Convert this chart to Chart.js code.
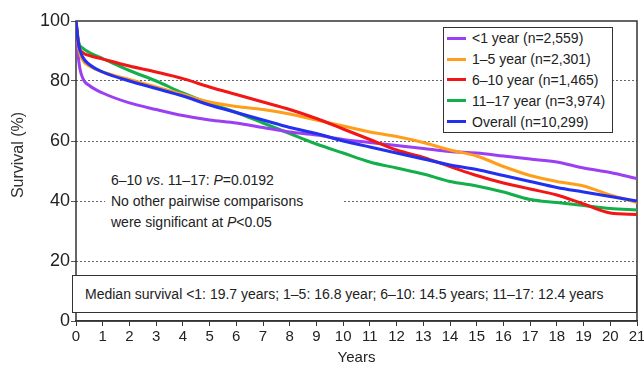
<!DOCTYPE html>
<html>
<head>
<meta charset="utf-8">
<script src="https://cdn.jsdelivr.net/npm/chart.js@4.4.0/dist/chart.umd.min.js"></script>
<style>
    body { margin: 0; background: #fff; font-family: "Liberation Sans", Arial, sans-serif; color: #222; }
    #wrap { position: relative; width: 644px; height: 371px; }
    .legend { position: absolute; left: 443px; top: 27px; width: 170px; height: 106px; box-sizing: border-box;
              border: 1.5px solid #333; background: #fff; font-size: 14px; }
    .legend .row { height: 20.8px; display: flex; align-items: center; }
    .legend .swatch { width: 19px; height: 3px; margin: 0 6px 0 3px; }
    .note { position: absolute; left: 105px; top: 170px; width: 238px; height: 64px; background: #fff;
            font-size: 14px; line-height: 21px; padding-left: 6px; box-sizing: border-box; }
    .median { position: absolute; left: 72px; top: 275px; width: 565px; height: 38px; box-sizing: border-box;
              border: 1px solid #333; border-top-width: 1.5px; border-bottom-width: 1.5px; background: #fff;
              font-size: 14px; line-height: 36px; padding-left: 12px; white-space: nowrap; }
</style>
</head>
<body>
<div id="wrap">
    <canvas id="chart-km" width="644" height="371"></canvas>
    <div class="legend" id="legend"></div>
    <div class="note">6–10 <i>vs</i>. 11–17: <i>P</i>=0.0192<br>No other pairwise comparisons<br>were significant at <i>P</i>&lt;0.05</div>
    <div class="median">Median survival &lt;1: 19.7 years; 1–5: 16.8 year; 6–10: 14.5 years; 11–17: 12.4 years</div>
</div>
<script>
// time points (years) shared by all curves
const years = [0, 0.1, 0.25, 0.5, 1, 2, 3, 4, 5, 6, 7, 8, 9, 10, 11, 12, 13, 14, 15, 16, 17, 18, 19, 20, 21];

const survLt1   = [100, 87, 81, 78.5, 76, 72.7, 70.5, 68.5, 67, 66, 64.5, 63, 62, 60.5, 59.5, 58.5, 57.5, 56.5, 56, 55, 54, 53, 51, 49.5, 47.5];
const surv1to5  = [100, 91, 87, 85, 83, 80.5, 78, 75.5, 73, 71.5, 70.5, 69, 67, 65, 63, 61.5, 59.5, 57, 55, 51.5, 48.5, 46.5, 45, 42, 39.5];
const surv6to10 = [100, 92, 89.5, 88.5, 87.3, 85, 83, 80.8, 78, 75.5, 73, 70.5, 67.5, 64, 60.5, 57, 54.5, 51.5, 48.5, 46, 44, 42, 39, 36, 35.5];
const surv11to17 = [100, 93, 91, 89.5, 87.5, 83.5, 80, 76, 72.5, 69.5, 66, 62.5, 59, 56, 53, 51, 49, 46.5, 45, 43, 40.5, 39.5, 38.5, 37.5, 37];
const survAll   = [100, 92, 88, 85.5, 83, 80, 77.5, 75, 72, 69.5, 67, 64.5, 62.5, 60, 58, 56, 54, 52, 50.5, 48.5, 46.5, 44.5, 43, 41.5, 40];

const seriesLabels = ["<1 year (n=2,559)", "1–5 year (n=2,301)", "6–10 year (n=1,465)", "11–17 year (n=3,974)", "Overall (n=10,299)"];
const seriesColors = ["#9b3ff2", "#ff9e1b", "#f21616", "#14ae4b", "#2230f0"];
const seriesValues = [survLt1, surv1to5, surv6to10, surv11to17, survAll];
const drawOrder = [4, 3, 2, 5, 1];

const yTicks = [0, 20, 40, 60, 80, 100];

const FONT = "'Liberation Sans', Arial, sans-serif";

const datasets = seriesValues.map((vals, i) => ({
    label: seriesLabels[i],
    data: years.map((x, j) => ({ x: x, y: vals[j] })),
    borderColor: seriesColors[i],
    borderWidth: 3,
    pointRadius: 0,
    fill: false,
    cubicInterpolationMode: "monotone",
    order: drawOrder[i],
}));

// legend as html box inside the plot
const legendEl = document.getElementById("legend");
seriesLabels.forEach((lab, i) => {
    const row = document.createElement("div");
    row.className = "row";
    const sw = document.createElement("span");
    sw.className = "swatch";
    sw.style.background = seriesColors[i];
    row.appendChild(sw);
    row.appendChild(document.createTextNode(lab));
    legendEl.appendChild(row);
});

const framePlugin = {
    id: "frame",
    beforeDatasetsDraw(chart) {
        const { ctx, chartArea: a } = chart;
        ctx.save();
        ctx.strokeStyle = "#333";
        ctx.lineWidth = 1.5;
        ctx.strokeRect(a.left, a.top, a.right - a.left, a.bottom - a.top);
        ctx.restore();
    },
    afterDraw(chart) {
        const { ctx } = chart;
        ctx.save();
        ctx.translate(19, 155);
        ctx.rotate(-Math.PI / 2);
        ctx.font = "16px " + FONT;
        ctx.fillStyle = "#333";
        ctx.textAlign = "center";
        ctx.textBaseline = "middle";
        ctx.fillText("Survival (%)", 0, 0);
        ctx.restore();
    },
};

new Chart(document.getElementById("chart-km"), {
    type: "line",
    data: { datasets: datasets },
    plugins: [framePlugin],
    options: {
        responsive: false,
        animation: false,
        layout: { padding: { top: 21, right: 7, left: 0, bottom: 0 } },
        plugins: { legend: { display: false }, tooltip: { enabled: false } },
        scales: {
            x: {
                type: "linear",
                min: 0,
                max: 21,
                afterFit(scale) { scale.height = 50; scale.paddingLeft = 0; scale.paddingRight = 0; },
                ticks: { stepSize: 1, color: "#222", font: { size: 15, family: FONT }, padding: 2, maxRotation: 0, autoSkip: false },
                grid: { drawOnChartArea: false, drawTicks: true, tickLength: 5, color: "#333" },
                border: { display: true, color: "#333", width: 1.5 },
                title: { display: true, text: "Years", color: "#222", font: { size: 15, family: FONT }, padding: { top: 2, bottom: 4 } },
            },
            y: {
                min: 0,
                max: 100,
                afterFit(scale) { scale.width = 76; scale.paddingTop = 0; scale.paddingBottom = 0; },
                afterBuildTicks(scale) { scale.ticks = yTicks.map(v => ({ value: v })); },
                ticks: { color: "#222", font: { size: 18, family: FONT }, padding: 1 },
                grid: {
                    color: ctx => (ctx.tick && (ctx.tick.value === 0 || ctx.tick.value === 100)) ? "rgba(0,0,0,0)" : "#666",
                    tickColor: "#555",
                    lineWidth: 1,
                    tickLength: 5,
                },
                border: { display: false, dash: [2, 2] },
            },
        },
    },
});
</script>
</body>
</html>
